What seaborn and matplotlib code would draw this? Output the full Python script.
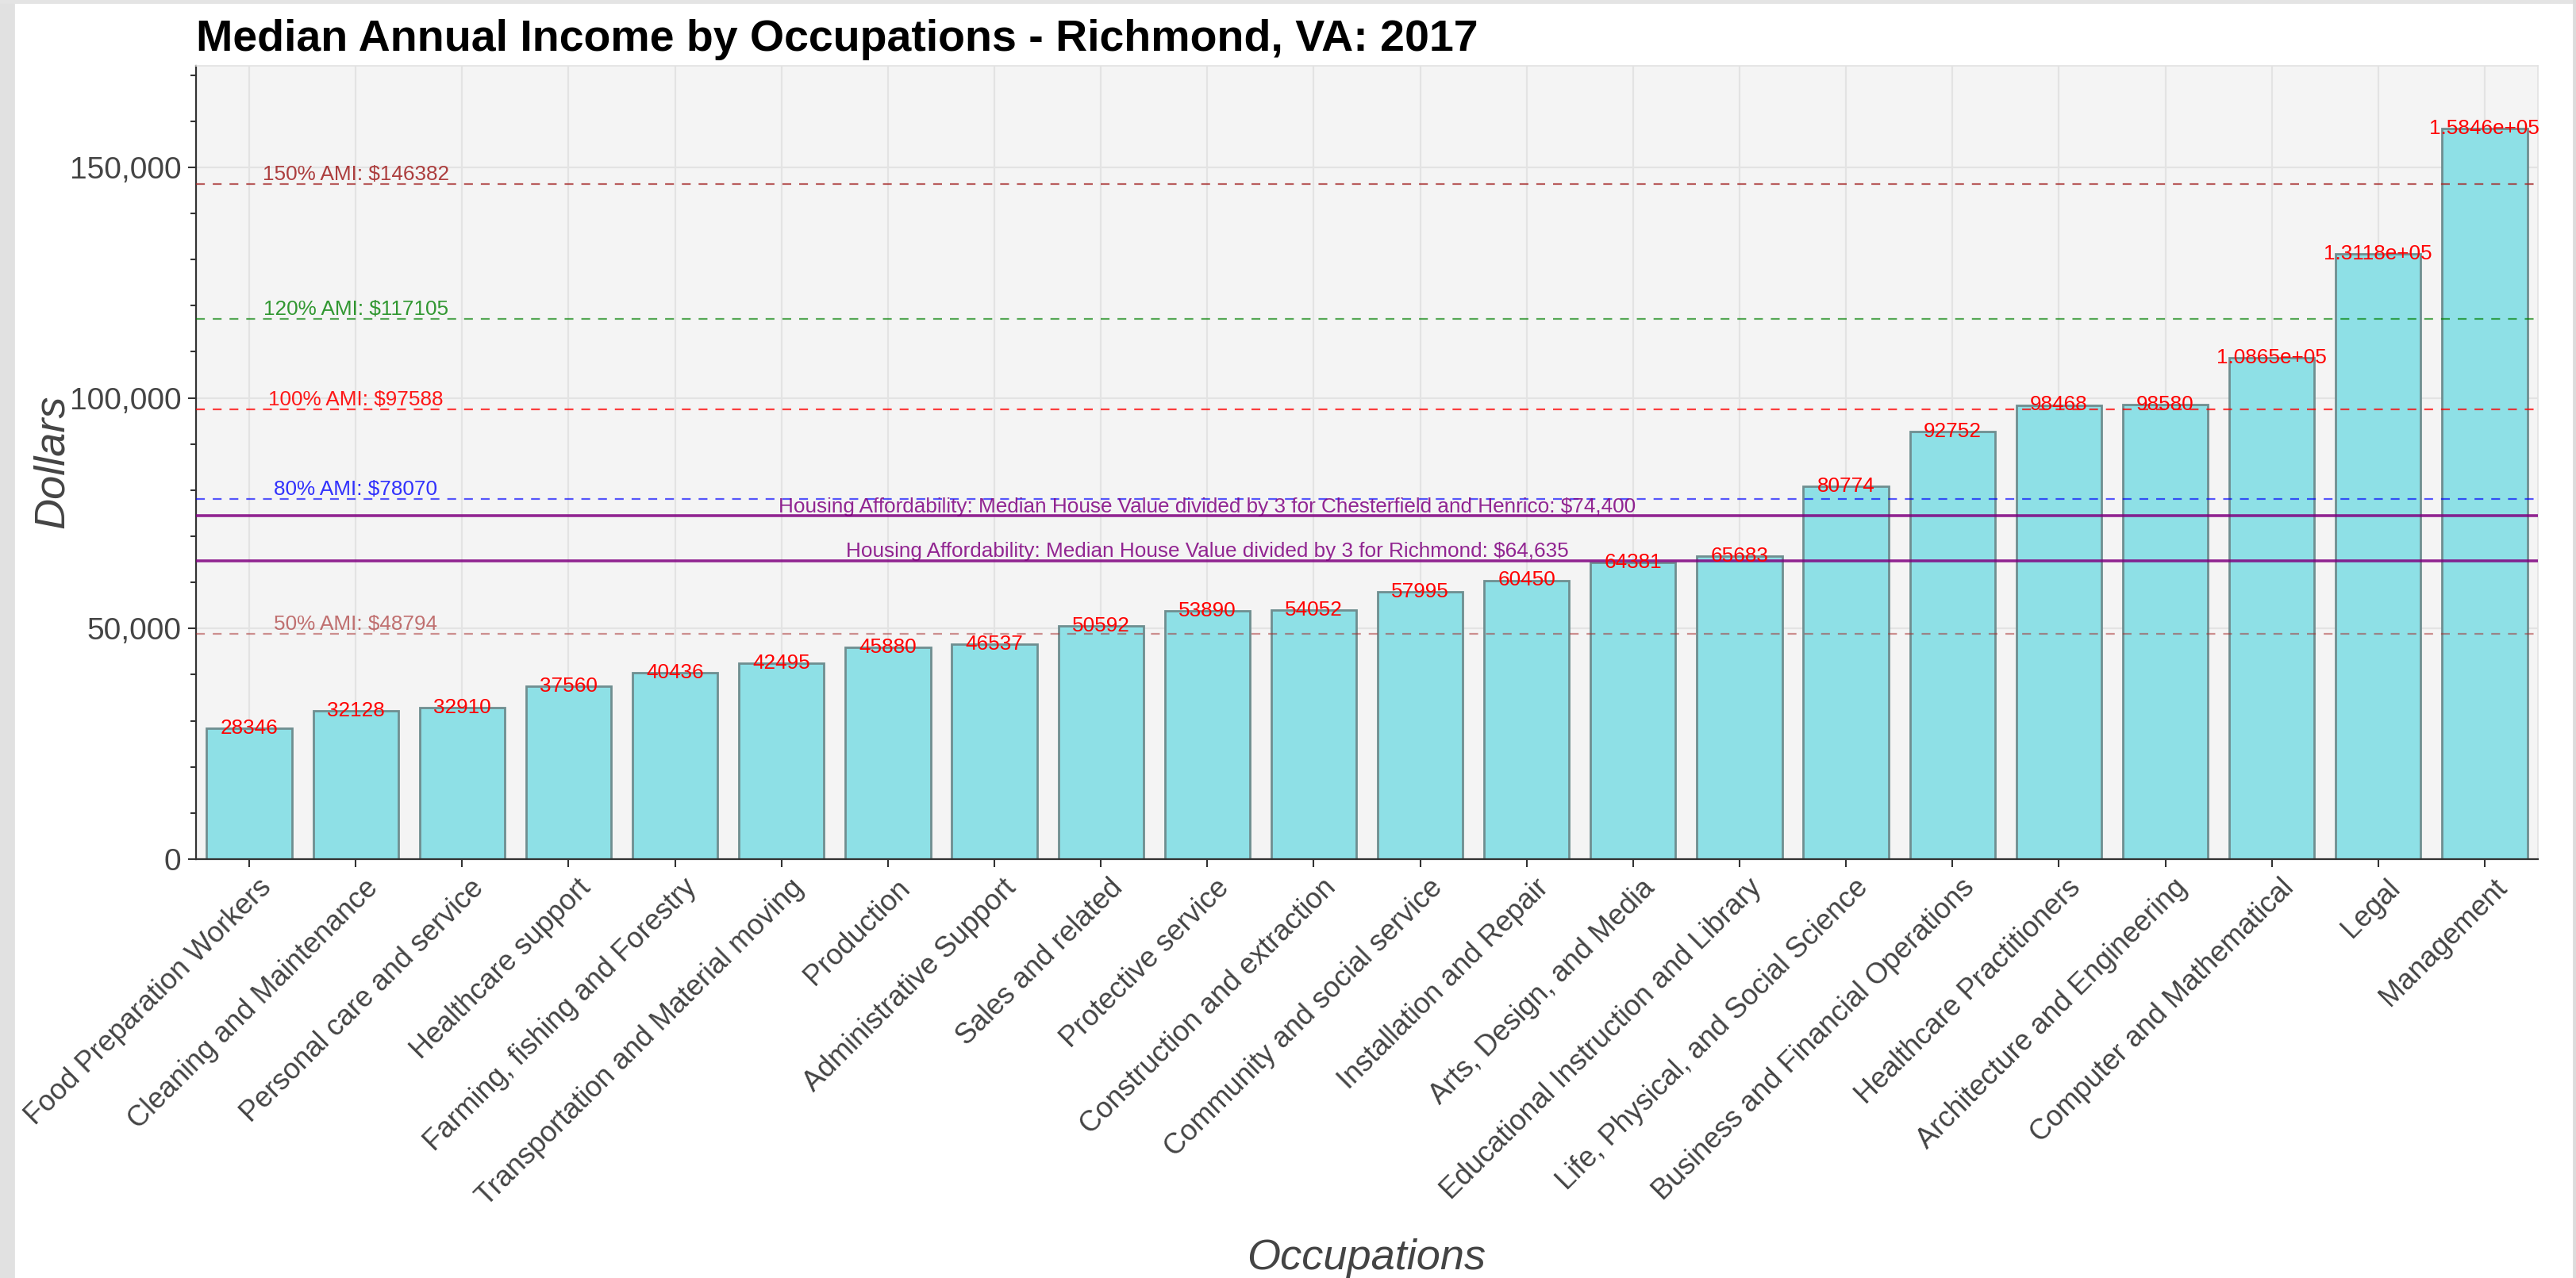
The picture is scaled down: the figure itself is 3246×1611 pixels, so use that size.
import matplotlib
matplotlib.use('Agg')
import matplotlib.pyplot as plt
import matplotlib.ticker as mticker
from matplotlib.patches import Rectangle
from matplotlib.transforms import ScaledTranslation
import seaborn as sns

# Data
occupations = ['Food Preparation Workers', 'Cleaning and Maintenance', 'Personal care and service',
               'Healthcare support', 'Farming, fishing and Forestry', 'Transportation and Material moving',
               'Production', 'Administrative Support', 'Sales and related', 'Protective service',
               'Construction and extraction', 'Community and social service', 'Installation and Repair',
               'Arts, Design, and Media', 'Educational Instruction and Library',
               'Life, Physical, and Social Science', 'Business and Financial Operations',
               'Healthcare Practitioners', 'Architecture and Engineering', 'Computer and Mathematical',
               'Legal', 'Management']
income = [28346, 32128, 32910, 37560, 40436, 42495, 45880, 46537, 50592, 53890, 54052,
          57995, 60450, 64381, 65683, 80774, 92752, 98468, 98580, 108650, 131180, 158460]

ami_labels = ['150% AMI', '120% AMI', '100% AMI', '80% AMI', '50% AMI']
ami_values = [146382, 117105, 97588, 78070, 48794]
ami_colors = ['brown', 'green', 'red', 'blue', 'brown']
ami_alpha = [0.75, 0.65, 0.75, 0.65, 0.5]

housing_labels = ['Housing Affordability: Median House Value divided by 3 for Chesterfield and Henrico: $74,400',
                  'Housing Affordability: Median House Value divided by 3 for Richmond: $64,635']
housing_values = [74400, 64635]

plt.rcParams['font.family'] = ['Liberation Sans', 'DejaVu Sans']

W, H = 3246, 1611
fig = plt.figure(figsize=(W / 200, H / 200), dpi=200)
fig.patch.set_facecolor('white')
# browser frame edges from the screenshot
fig.patches.append(Rectangle((0, 0), 17 / W, 1, transform=fig.transFigure, color='#e1e1e1', zorder=0))
fig.patches.append(Rectangle((0, 1 - 3 / H), 1, 3 / H, transform=fig.transFigure, color='#e4e4e4', zorder=0))
fig.patches.append(Rectangle((1 - 3 / W, 0), 3 / W, 1, transform=fig.transFigure, color='#dcdcdc', zorder=0))

ax = fig.add_axes([247 / W, 1 - 1083 / H, (3198 - 247) / W, 1000 / H])
ax.set_facecolor('#f4f4f4')

sns.barplot(x=occupations, y=income, color='#8ee0e6', saturation=1, width=0.8,
            edgecolor='#6f8e90', linewidth=1.0, ax=ax, zorder=2)

ax.set_ylim(0, 172000)
ax.set_xlim(-0.5, len(occupations) - 0.5)
ax.yaxis.set_major_locator(mticker.MultipleLocator(50000))
ax.yaxis.set_minor_locator(mticker.MultipleLocator(10000))
ax.yaxis.set_major_formatter(mticker.FuncFormatter(lambda v, p: f'{int(v):,}'))

ax.grid(True, which='major', color='#e3e3e3', lw=0.8)
ax.set_axisbelow(True)

# value labels on top of the bars
for i, v in enumerate(income):
    txt = f'{v:.4e}' if v >= 100000 else str(v)
    ax.annotate(txt, xy=(i, v), xytext=(0, -2.5), textcoords='offset points',
                ha='center', va='baseline', color='red', fontsize=9.4, zorder=5)

# AMI reference lines
for lab, val, col, al in zip(ami_labels, ami_values, ami_colors, ami_alpha):
    ax.axhline(val, color=col, ls='--', dashes=(5, 4.5), lw=0.8, alpha=al, zorder=3)
    ax.annotate(f'{lab}: ${val}', xy=(1, val), xytext=(0, 1.8), textcoords='offset points',
                ha='center', va='baseline', color=col, alpha=min(al + 0.15, 1), fontsize=9.4, zorder=5)

# housing affordability lines
for lab, val in zip(housing_labels, housing_values):
    ax.axhline(val, color='purple', lw=1.3, alpha=0.85, zorder=3)
    ax.annotate(lab, xy=(9, val), xytext=(0, 1.7), textcoords='offset points',
                ha='center', va='baseline', color='purple', alpha=0.85, fontsize=9.4, zorder=5)

for side in ['left', 'bottom']:
    ax.spines[side].set_color('#333333')
    ax.spines[side].set_linewidth(0.8)
for side in ['top', 'right']:
    ax.spines[side].set_color('#e2e2e2')
    ax.spines[side].set_linewidth(0.6)

ax.tick_params(axis='both', which='major', direction='out', length=3.5, width=0.75,
               color='#333333', labelcolor='#444444', pad=3.2)
ax.tick_params(axis='y', which='major', labelsize=14)
ax.tick_params(axis='x', which='major', labelsize=13)
ax.tick_params(axis='y', which='minor', direction='out', length=2.5, width=0.75, color='#333333')
ax.tick_params(axis='x', which='minor', bottom=False)

ax.set_xticks(range(len(occupations)))
ax.set_xticklabels(occupations, rotation=45, ha='right', va='top', rotation_mode='anchor')
shift = ScaledTranslation(10 / 200, 0, fig.dpi_scale_trans)
for lab in ax.get_xticklabels():
    lab.set_transform(lab.get_transform() + shift)

ax.set_xlabel('')
ax.set_ylabel('')
fig.text(66 / W, 1 - 582 / H, 'Dollars', rotation=90, ha='center', va='center',
         style='italic', fontsize=19.5, color='#444444')
fig.text(1722 / W, 1 - 1600 / H, 'Occupations', ha='center', va='baseline',
         style='italic', fontsize=19.5, color='#444444')
fig.text(247 / W, 1 - 64 / H, 'Median Annual Income by Occupations - Richmond, VA: 2017',
         ha='left', va='baseline', fontsize=20, weight='bold', color='black')

fig.savefig('out.png', dpi=200)
